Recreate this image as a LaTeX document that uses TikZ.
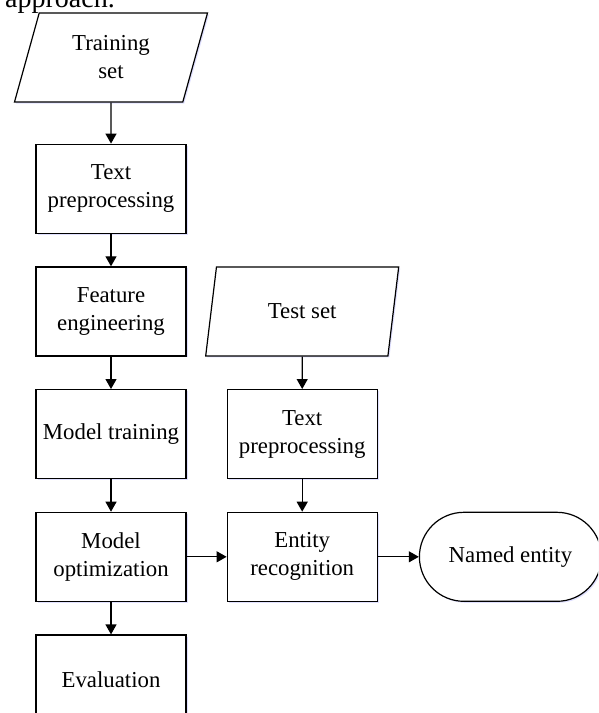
\documentclass[tikz,border=0pt]{standalone}
\usepackage{fontspec}
\setmainfont{Liberation Serif}
\usetikzlibrary{positioning,arrows.meta,shapes.geometric,shadows}

\begin{document}
\begin{tikzpicture}[x=1pt,y=1pt,
    node distance=32.5pt and 40pt,
    >={Triangle[length=10pt,width=11pt]},
]

\tikzstyle{stage}=[rectangle,draw,line width=1.2pt,fill=white,minimum width=150pt,minimum height=89pt,align=center,font=\fontsize{22.8}{28}\selectfont,drop shadow={shadow xshift=1.5pt,shadow yshift=-1.5pt,fill=blue!20,opacity=0.6}]
\tikzstyle{dataset}=[stage,trapezium,trapezium left angle=63.7,trapezium right angle=116.3,trapezium stretches body,minimum width=193pt]
\tikzstyle{result}=[stage,rounded corners=44.5pt,minimum width=182pt]
\tikzstyle{flow}=[->,line width=1.2pt]

\useasboundingbox (0,0) rectangle (598,-713);
\path[clip] (0,0) rectangle (598,-713);

\node[anchor=base west,inner sep=0pt,font=\fontsize{28}{32}\selectfont] (capt) at (5,-7.5) {approach.};

% training branch
\node[dataset] (train) at (111,-57.5) {Training\\set};
\node[stage,below=41pt of train] (prep1) {Text\\preprocessing};
\node[stage,below=of prep1] (feat) {Feature\\engineering};
\node[stage,below=of feat] (mtrain) {Model training};
\node[stage,below=of mtrain] (opt) {Model\\optimization};
\node[stage,below=of opt] (eval) {Evaluation};

% test branch
\node[stage,right=of mtrain] (prep2) {Text\\preprocessing};
\node[dataset,above=of prep2] (test) {Test set};
\node[stage,below=of prep2] (recog) {Entity\\recognition};
\node[result,right=41pt of recog] (named) {Named entity};

\draw[flow] (train) -- (prep1);
\draw[flow] (prep1) -- (feat);
\draw[flow] (feat) -- (mtrain);
\draw[flow] (mtrain) -- (opt);
\draw[flow] (opt) -- (eval);
\draw[flow] (test) -- (prep2);
\draw[flow] (prep2) -- (recog);
\draw[flow] (opt) -- (recog);
\draw[flow] (recog) -- (named);
\end{tikzpicture}
\end{document}
